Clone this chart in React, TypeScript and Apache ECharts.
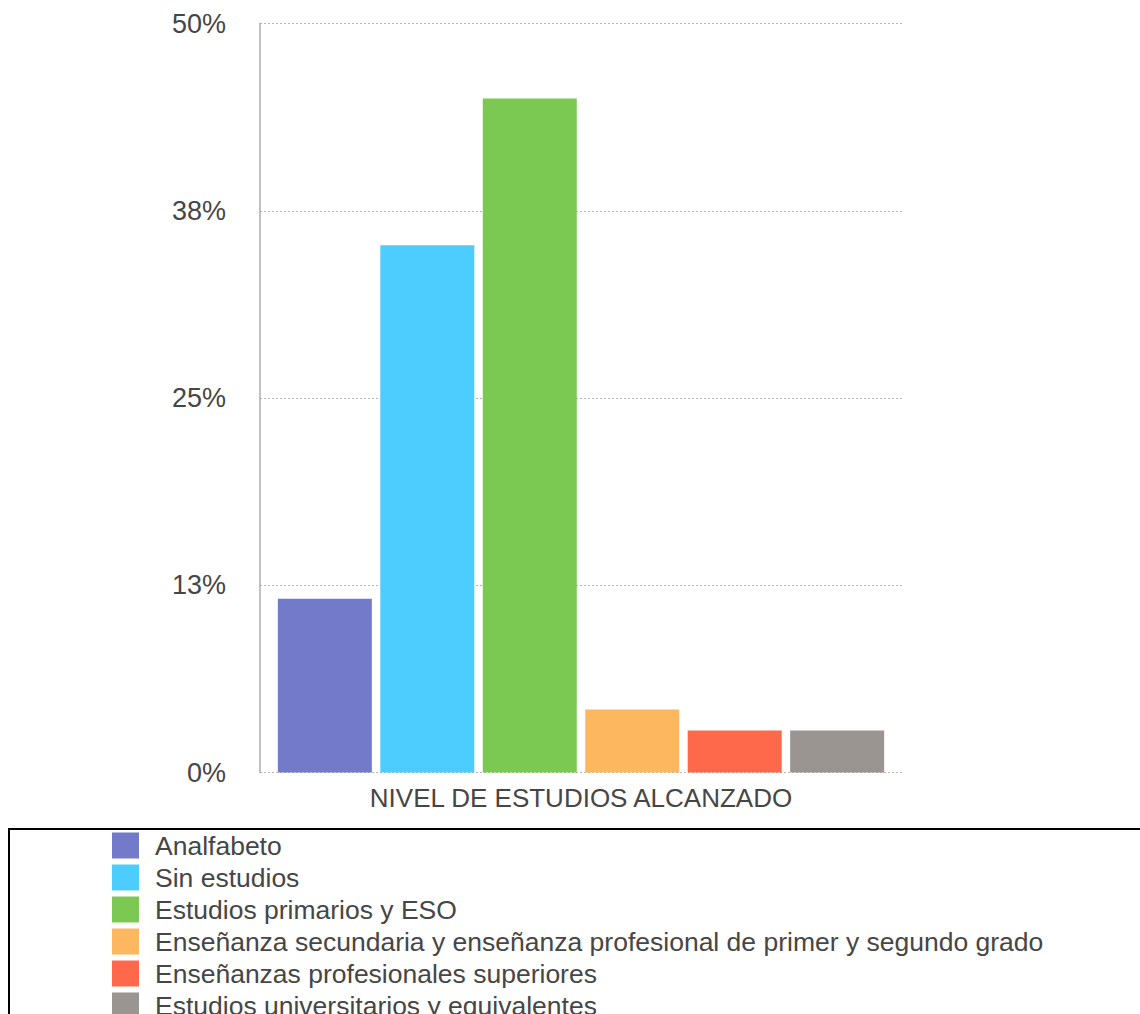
import React, { useEffect, useRef } from "react";
import * as echarts from "echarts";

const categories = ["NIVEL DE ESTUDIOS ALCANZADO"];
const seriesNames = [
  "Analfabeto",
  "Sin estudios",
  "Estudios primarios y ESO",
  "Enseñanza secundaria y enseñanza profesional de primer y segundo grado",
  "Enseñanzas profesionales superiores",
  "Estudios universitarios y equivalentes",
];
const seriesValues = [11.6, 35.2, 45.0, 4.2, 2.8, 2.8];
const seriesColors = ["#737ac9", "#4dcdfe", "#7bc953", "#fdb75e", "#fe694b", "#9b9591"];
const yTicks = [0, 12.5, 25, 37.5, 50];

const FONT = "'Liberation Sans', Arial, Helvetica, sans-serif";
const TEXT = "#464646";
// The canvas runs a little past the bottom of the window, so the legend frame continues off-page.
const CHART_H = 1060;

export default function App() {
  const ref = useRef<HTMLDivElement>(null);

  useEffect(() => {
    if (!ref.current) return;
    const chart = echarts.init(ref.current, undefined, { renderer: "svg" });
    chart.setOption({
      animation: false,
      backgroundColor: "#ffffff",
      textStyle: { fontFamily: FONT },
      grid: { left: 260, right: 238, top: 23.5, bottom: CHART_H - 772.5, containLabel: false },
      xAxis: {
        type: "category",
        data: categories.map(() => ""),
        name: categories[0],
        nameLocation: "middle",
        nameGap: 12,
        nameTextStyle: { fontSize: 26, color: TEXT, fontFamily: FONT },
        axisLine: { show: false },
        axisTick: { show: false },
        axisLabel: { show: false },
      },
      yAxis: {
        type: "value",
        min: yTicks[0],
        max: yTicks[yTicks.length - 1],
        interval: yTicks[1] - yTicks[0],
        axisLine: { show: true, lineStyle: { color: "#ababab", width: 1.5 } },
        axisTick: { show: false },
        axisLabel: {
          margin: 34,
          fontSize: 27,
          color: TEXT,
          fontFamily: FONT,
          formatter: (v: number) => `${Math.round(v)}%`,
        },
        splitLine: { show: true, lineStyle: { color: "#b5b5b5", type: [2, 2], width: 1.2 } },
      },
      legend: {
        orient: "vertical",
        left: 107,
        top: 827,
        itemWidth: 27,
        itemHeight: 26,
        itemGap: 5,
        icon: "rect",
        selectedMode: false,
        textStyle: { fontSize: 26.5, color: TEXT, fontFamily: FONT, padding: [0, 0, 0, 11] },
        data: seriesNames,
      },
      graphic: [
        {
          type: "rect",
          shape: { x: 9, y: 829, width: 1160, height: 260 },
          style: { fill: "none", stroke: "#000000", lineWidth: 2 },
          silent: true,
        },
      ],
      series: seriesNames.map((name, i) => ({
        name,
        type: "bar",
        data: [seriesValues[i]],
        barWidth: 94,
        barGap: "9%",
        itemStyle: { color: seriesColors[i] },
      })),
    });
    return () => chart.dispose();
  }, []);

  return (
    <div
      ref={ref}
      style={{ position: "fixed", left: 0, top: 0, width: 1140, height: CHART_H }}
    />
  );
}
